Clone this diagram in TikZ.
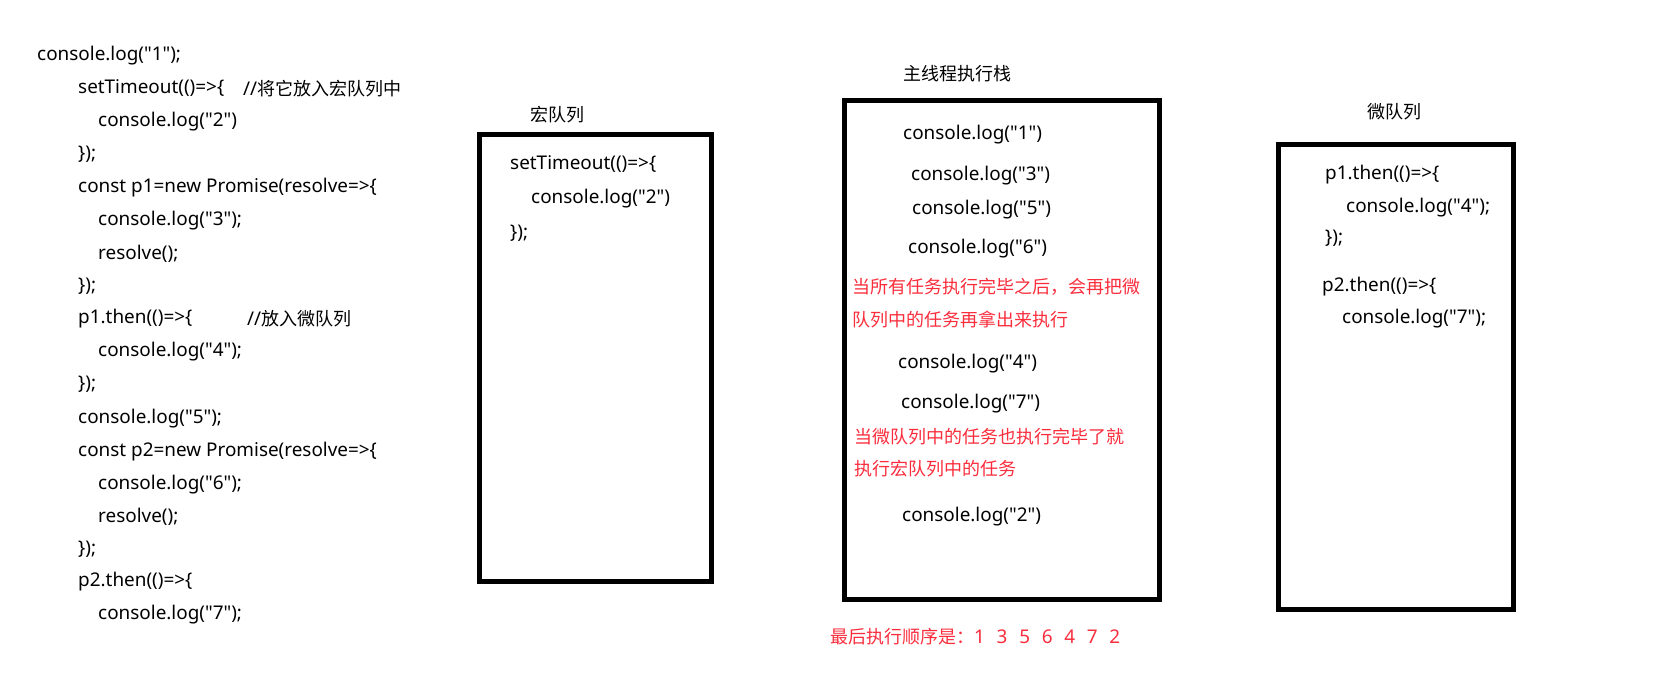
\documentclass[tikz,border=0pt]{standalone}
\usepackage{fontspec}
\setmainfont{Noto Sans}[Scale=1.05,Ligatures=TeXOff]
\newfontfamily\cjk{Noto Sans CJK SC}
\usetikzlibrary{positioning}
\definecolor{notered}{RGB}{250,45,60}
\tikzset{
  code/.style={anchor=west,inner sep=0pt,yshift=-1.5pt,font=\fontsize{18}{22}\selectfont},
  note/.style={code,text=notered},
  queuebox/.style={draw=black,line width=5pt},
}
\begin{document}
\begin{tikzpicture}[x=1pt,y=-1pt]
\useasboundingbox (0,0) rectangle (1667,697);
% source code
\node[code] (l1) at (37,54) {console.log("1");};
\node[code] (l2) at (78,87) {setTimeout(()=>\{};
\node[code] (c1) at (243,87) {//{\cjk 将它放入宏队列中}};
\node[code] (l3) at (98,120) {console.log("2")};
\node[code] (l4) at (78,153) {\});};
\node[code] (l5) at (78,186) {const p1=new Promise(resolve=>\{};
\node[code] (l6) at (98,219) {console.log("3");};
\node[code] (l7) at (98,252) {resolve();};
\node[code] (l8) at (78,285) {\});};
\node[code] (l9) at (78,317) {p1.then(()=>\{};
\node[code] (c2) at (247,317) {//{\cjk 放入微队列}};
\node[code] (l10) at (98,350) {console.log("4");};
\node[code] (l11) at (78,383) {\});};
\node[code] (l12) at (78,417) {console.log("5");};
\node[code] (l13) at (78,450) {const p2=new Promise(resolve=>\{};
\node[code] (l14) at (98,483) {console.log("6");};
\node[code] (l15) at (98,515) {resolve();};
\node[code] (l16) at (78,548) {\});};
\node[code] (l17) at (78,580) {p2.then(()=>\{};
\node[code] (l18) at (98,613) {console.log("7");};
% macro queue
\draw[queuebox] (479.5,134.5) rectangle (711.5,581.5);
\node[code] (macro) at (530,113) {\cjk 宏队列};
\node[code] (m1) at (510,163) {setTimeout(()=>\{};
\node[code] (m2) at (531,197) {console.log("2")};
\node[code] (m3) at (510,232) {\});};
% main stack
\draw[queuebox] (844.5,100.5) rectangle (1159.5,599.5);
\node[code] (stack) at (903,72) {\cjk 主线程执行栈};
\node[code] (s1) at (903,133) {console.log("1")};
\node[code] (s3) at (911,174) {console.log("3")};
\node[code] (s5) at (912,208) {console.log("5")};
\node[code] (s6) at (908,247) {console.log("6")};
\node[note] (n1) at (852,285) {\cjk 当所有任务执行完毕之后，会再把微};
\node[note] (n2) at (852,318) {\cjk 队列中的任务再拿出来执行};
\node[code] (s4) at (898,362) {console.log("4")};
\node[code] (s7) at (901,402) {console.log("7")};
\node[note] (n3) at (854,435) {\cjk 当微队列中的任务也执行完毕了就};
\node[note] (n4) at (854,467) {\cjk 执行宏队列中的任务};
\node[code] (s2) at (902,515) {console.log("2")};
\node[note] (order) at (830,635) {{\cjk 最后执行顺序是：}1\hspace{0.62em}3\hspace{0.62em}5\hspace{0.62em}6\hspace{0.62em}4\hspace{0.62em}7\hspace{0.62em}2};
% micro queue
\draw[queuebox] (1278.5,144.5) rectangle (1513.5,609.5);
\node[code] (micro) at (1367,110) {\cjk 微队列};
\node[code] (u1) at (1325,173) {p1.then(()=>\{};
\node[code] (u2) at (1346,206) {console.log("4");};
\node[code] (u3) at (1325,237) {\});};
\node[code] (u4) at (1322,285) {p2.then(()=>\{};
\node[code] (u5) at (1342,317) {console.log("7");};
\end{tikzpicture}
\end{document}
